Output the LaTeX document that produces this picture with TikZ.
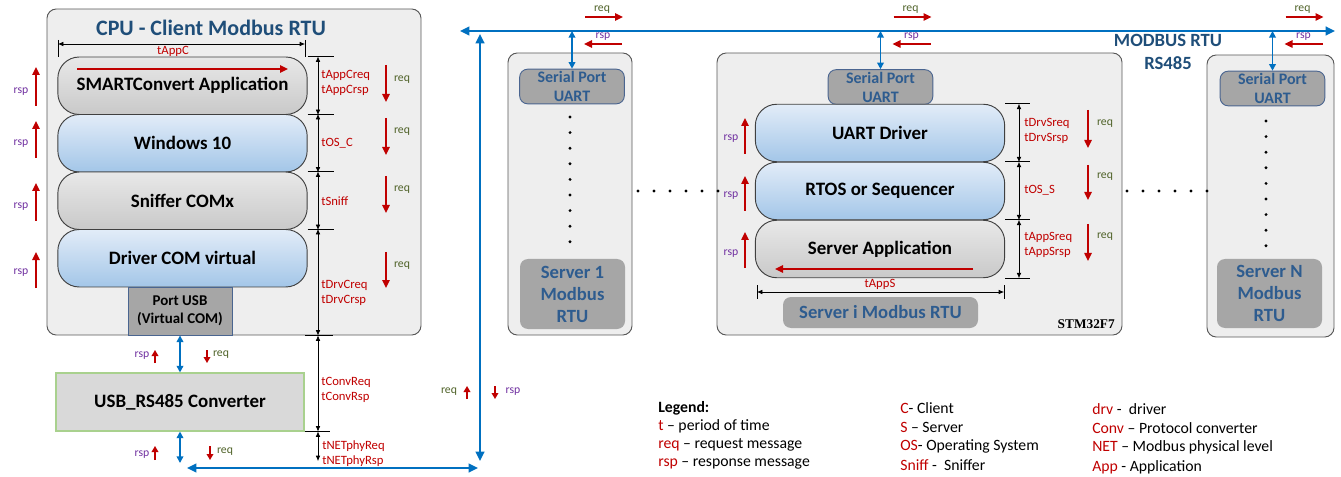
\documentclass[tikz,border=0pt]{standalone}
\usepackage{fontspec}
\setmainfont{Carlito}
\newfontfamily\stmfont{Liberation Serif}
\usetikzlibrary{arrows.meta,calc}
\definecolor{boxgray}{HTML}{EEEEEE}
\definecolor{edgegray}{HTML}{595959}
\definecolor{layeredge}{HTML}{404040}
\definecolor{pillgrayA}{HTML}{E8E8E8}
\definecolor{pillgrayB}{HTML}{C9C9C9}
\definecolor{pillblueA}{HTML}{E2ECF8}
\definecolor{pillblueB}{HTML}{A3C6E8}
\definecolor{portgray}{HTML}{A6A6A6}
\definecolor{portedge}{HTML}{4A6590}
\definecolor{convgray}{HTML}{D9D9D9}
\definecolor{convgreen}{HTML}{A9D18E}
\definecolor{titleblue}{HTML}{1F4E79}
\definecolor{textblue}{HTML}{2E5C8F}
\definecolor{busblue}{HTML}{0070C0}
\definecolor{arrred}{HTML}{C00000}
\definecolor{reqgreen}{HTML}{4F6228}
\definecolor{rsppurple}{HTML}{7030A0}
\begin{document}
\begin{tikzpicture}[x=0.75pt,y=-0.75pt,
	boardbox/.style={draw=edgegray, fill=boxgray, rounded corners=7pt, line width=0.7pt, inner sep=0pt},
	layerbox/.style={draw=layeredge, line width=0.7pt, rounded corners=16pt, minimum width=187pt, minimum height=43.1pt, inner sep=0pt, font=\fontsize{14.2}{17}\selectfont\bfseries},
	graylayer/.style={layerbox, top color=pillgrayA, bottom color=pillgrayB},
	bluelayer/.style={layerbox, top color=pillblueA, bottom color=pillblueB},
	uartbox/.style={draw=portedge, fill=portgray, rounded corners=6pt, line width=0.7pt, minimum width=78.5pt, minimum height=26pt, inner sep=0pt, align=center, text=textblue, font=\fontsize{12}{14.2}\selectfont\bfseries},
	srvlabel/.style={fill=portgray, rounded corners=6pt, inner sep=0pt, align=center, text=textblue, font=\fontsize{14}{16.5}\selectfont\bfseries},
	tickline/.style={draw=black, line width=0.6pt},
	dimline/.style={draw=black, line width=0.5pt, {Latex[length=4pt,width=3.5pt]}-{Latex[length=4pt,width=3.5pt]}},
	tlabel/.style={text=arrred, anchor=west, inner sep=0pt, align=left, font=\fontsize{9.5}{11.25}\selectfont},
	flow/.style={draw=arrred, line width=1.1pt, -{Triangle[length=6pt,width=5.5pt]}},
	minflow/.style={draw=arrred, line width=1pt, -{Triangle[length=4.5pt,width=5pt]}},
	reqlbl/.style={text=reqgreen, inner sep=0pt, font=\fontsize{8.8}{10}\selectfont},
	rsplbl/.style={text=rsppurple, inner sep=0pt, font=\fontsize{8.8}{10}\selectfont},
	bus/.style={draw=busblue, line width=1.6pt, {Triangle[length=7pt,width=6.5pt]}-{Triangle[length=7pt,width=6.5pt]}},
	link/.style={draw=busblue, line width=1.2pt, {Triangle[length=5pt,width=5pt]}-{Triangle[length=5pt,width=5pt]}},
	smalldot/.style={fill=black, circle, inner sep=0pt, minimum size=2.4pt},
	legtxt/.style={anchor=west, inner sep=0pt, font=\fontsize{11.8}{13}\selectfont}]
	\useasboundingbox (0,0) rectangle (1341,477);

	% client
	\node[boardbox, minimum width=280.5pt, minimum height=244.5pt] (cpu) at (234,172) {};
	\node[text=titleblue, font=\fontsize{16.5}{19}\selectfont\bfseries] (cputitle) at (211,28) {CPU - Client Modbus RTU};
	\node[graylayer] (app) at (182.5,85.75) {SMARTConvert Application};
	\node[bluelayer] (win) at (182.5,143.25) {Windows 10};
	\node[graylayer] (snf) at (182.5,200.75) {Sniffer COMx};
	\node[bluelayer] (drv) at (182.5,258.25) {Driver COM virtual};
	\node[draw=portedge, fill=portgray, line width=0.7pt, minimum width=78pt, minimum height=36pt, inner sep=0pt, align=center, font=\fontsize{11.2}{13.5}\selectfont\bfseries] (usb) at (180,311) {Port USB\\(Virtual COM)};
	\node[draw=convgreen, fill=convgray, line width=0.8pt, minimum width=186pt, minimum height=43.5pt, font=\fontsize{14.2}{17}\selectfont\bfseries] (conv) at (180,402) {USB\_RS485 Converter};
	\draw[flow] (77,69) -- (288,69);

	% client times
	\draw[tickline] (58,40) -- (58,57);
	\draw[tickline] (305,40) -- (305,57);
	\draw[dimline] (58,44) -- (305,44);
	\node[tlabel, anchor=center] (tappc) at (173,51) {tAppC};
	\foreach \n in {app,win,snf,drv} \draw[tickline] (\n.north east) -- ++(26,0);
	\draw[tickline] (305,335) -- (333,335);
	\draw[tickline] (conv.south east) -- ++(25,0);
	\coordinate (dimC) at (318,0);
	\coordinate (dimN) at (318,461);
	\foreach \n in {app,win,snf} \draw[dimline] (\n.north -| dimC) -- (\n.south -| dimC);
	\draw[dimline] (drv.north -| dimC) -- (cpu.south -| dimC);
	\draw[dimline] (cpu.south -| dimC) -- (conv.south -| dimC);
	\draw[dimline] (conv.south -| dimC) -- (dimN);
	\node[tlabel] (lappc) at (321,82.5) {tAppCreq\\tAppCrsp};
	\node[tlabel] (losc) at (321,143) {tOS\_C};
	\node[tlabel] (lsniff) at (321,201) {tSniff};
	\node[tlabel] (ldrvc) at (321,292.5) {tDrvCreq\\tDrvCrsp};
	\node[tlabel] (lconv) at (321,389.5) {tConvReq\\tConvRsp};
	\node[tlabel] (lnet) at (322,454) {tNETphyReq\\tNETphyRsp};
	\foreach \ya/\yb/\yl [count=\i] in {65/102/80, 118/155/132, 176/213/190, 252/288/266} {
		\draw[flow] (386,\ya) -- (386,\yb);
		\node[reqlbl] (creq\i) at (402,\yl) {req};
	}
	\foreach \ya/\yb/\yl [count=\i] in {106/67/92, 158/121/144, 221/183/207, 288/252/273} {
		\draw[flow] (36,\ya) -- (36,\yb);
		\node[rsplbl] (crsp\i) at (21,\yl) {rsp};
	}

	% usb and converter links
	\coordinate (netend) at (180,463);
	\draw[link] (usb.south) -- (conv.north);
	\draw[link] (conv.south) -- (netend);
	\draw[minflow] (155,363) -- (155,350);
	\node[rsplbl] (ursp) at (142,356) {rsp};
	\draw[minflow] (207,350) -- (207,363);
	\node[reqlbl] (ureq) at (221,355) {req};
	\draw[minflow] (155,460) -- (155,446);
	\node[rsplbl] (nrsp) at (142,455) {rsp};
	\draw[minflow] (210,446) -- (210,460);
	\node[reqlbl] (nreq) at (225,452) {req};

	% RS485 bus
	\coordinate (busL) at (460,31);
	\coordinate (busR) at (1335,31);
	\coordinate (netL) at (187,468);
	\coordinate (netR) at (478,468);
	\coordinate (upT) at (480,34);
	\coordinate (upB) at (480,461);
	\draw[bus] (busL) -- (busR);
	\draw[bus] (netL) -- (netR);
	\draw[bus] (upT) -- (upB);
	\draw[minflow] (467,399) -- (467,386);
	\node[reqlbl] (vreq) at (449,392) {req};
	\draw[minflow] (495,386) -- (495,399);
	\node[rsplbl] (vrsp) at (513,392) {rsp};
	\node[text=titleblue, align=center, font=\fontsize{14}{17.25}\selectfont\bfseries] (modbus) at (1168,51.5) {MODBUS RTU\\RS485};

	% server 1
	\node[boardbox, minimum width=93pt, minimum height=211.5pt] (srv1) at (570,194) {};
	\node[uartbox] (uart1) at (572,86.5) {Serial Port\\UART};
	\foreach \k in {0,...,8} \node[smalldot] (da\k) at (570,{117+15.6*\k}) {};
	\node[srvlabel, minimum width=78.75pt, minimum height=52.5pt] (srv1lbl) at (572.5,294) {Server 1\\Modbus\\RTU};

	% server i
	\node[boardbox, minimum width=303.75pt, minimum height=211.5pt] (srvi) at (919.5,194) {};
	\node[uartbox] (uarti) at (880.5,87) {Serial Port\\UART};
	\node[bluelayer] (udrv) at (880,133) {UART Driver};
	\node[bluelayer] (rtos) at (880,191) {RTOS or Sequencer};
	\node[graylayer] (sapp) at (880,249) {Server Application};
	\draw[flow] (973,269) -- (775,269);
	\foreach \n in {udrv,rtos,sapp} \draw[tickline] (\n.north east) -- ++(25,0);
	\draw[tickline] (sapp.south east) -- ++(25,0);
	\coordinate (dimS) at (1019,0);
	\foreach \n in {udrv,rtos,sapp} \draw[dimline] (\n.north -| dimS) -- (\n.south -| dimS);
	\draw[tickline] (757,285) -- (757,299);
	\draw[tickline] (1004,285) -- (1004,299);
	\draw[dimline] (757,292) -- (1004,292);
	\node[tlabel, anchor=center] (tapps) at (880,284) {tAppS};
	\node[tlabel] (ldrvs) at (1024,130.5) {tDrvSreq\\tDrvSrsp};
	\node[tlabel] (loss) at (1024,190) {tOS\_S};
	\node[tlabel] (lapps) at (1024,244.5) {tAppSreq\\tAppSrsp};
	\foreach \ya/\yb/\yl [count=\i] in {110/148/124, 165/200/177, 224/261/237} {
		\draw[flow] (1088,\ya) -- (1088,\yb);
		\node[reqlbl] (sreq\i) at (1105,\yl) {req};
	}
	\foreach \ya/\yb/\yl [count=\i] in {154/118/139, 211/176/196, 268/232/254} {
		\draw[flow] (745,\ya) -- (745,\yb);
		\node[rsplbl] (srsp\i) at (731,\yl) {rsp};
	}
	\node[srvlabel, minimum width=146.25pt, minimum height=23.25pt] (srvilbl) at (880.5,312.5) {Server i Modbus RTU};
	\node[anchor=east, inner sep=0pt, font=\stmfont\bfseries\fontsize{10}{12}\selectfont] (stm) at (1115,324) {STM32F7};

	% server N
	\node[boardbox, minimum width=95.25pt, minimum height=211.5pt] (srvn) at (1270.5,196) {};
	\node[uartbox] (uartn) at (1272.5,88.5) {Serial Port\\UART};
	\foreach \k in {0,...,8} \node[smalldot] (dn\k) at (1266,{121+15.6*\k}) {};
	\node[srvlabel, minimum width=78.75pt, minimum height=51.75pt] (srvnlbl) at (1269.5,293.5) {Server N\\Modbus\\RTU};

	% between servers
	\foreach \k in {0,...,5} {
		\node[smalldot] (hl\k) at ({638+16*\k},191) {};
		\node[smalldot] (hr\k) at ({1127+16*\k},191) {};
	}

	% bus taps
	\coordinate (reqrow) at (0,17);
	\coordinate (rsprow) at (0,44);
	\coordinate (reqtxt) at (0,10);
	\coordinate (rsptxt) at (0,37);
	\foreach \n in {uart1,uarti,uartn} {
		\draw[link] (\n.north |- busL) -- (\n.north);
		\draw[flow] ($(\n.north |- reqrow)+(13,0)$) -- ++(38,0);
		\node[reqlbl] (breq\n) at ($(\n.north |- reqtxt)+(30,0)$) {req};
		\draw[flow] ($(\n.north |- rsprow)+(50,0)$) -- ++(-38,0);
		\node[rsplbl] (brsp\n) at ($(\n.north |- rsptxt)+(31,0)$) {rsp};
	}

	% legend
	\node[legtxt, font=\fontsize{11.8}{13}\selectfont\bfseries] (leghead) at (658,408) {Legend:};
	\node[legtxt] (lega) at (658,426) {\textcolor{arrred}{t} -- period of time};
	\node[legtxt] (legb) at (658,445) {\textcolor{arrred}{req} -- request message};
	\node[legtxt] (legc) at (658,464) {\textcolor{arrred}{rsp} -- response message};
	\node[legtxt] (legd) at (900,408) {\textcolor{arrred}{C}- Client};
	\node[legtxt] (lege) at (900,427) {\textcolor{arrred}{S} -- Server};
	\node[legtxt] (legf) at (900,446) {\textcolor{arrred}{OS}- Operating System};
	\node[legtxt] (legg) at (900,465) {\textcolor{arrred}{Sniff} -\ \ Sniffer};
	\node[legtxt] (legh) at (1092,409) {\textcolor{arrred}{drv} -\ \ driver};
	\node[legtxt] (legi) at (1092,428) {\textcolor{arrred}{Conv} -- Protocol converter};
	\node[legtxt] (legj) at (1092,447) {\textcolor{arrred}{NET} -- Modbus physical level};
	\node[legtxt] (legk) at (1092,467) {\textcolor{arrred}{App} - Application};
\end{tikzpicture}
\end{document}
